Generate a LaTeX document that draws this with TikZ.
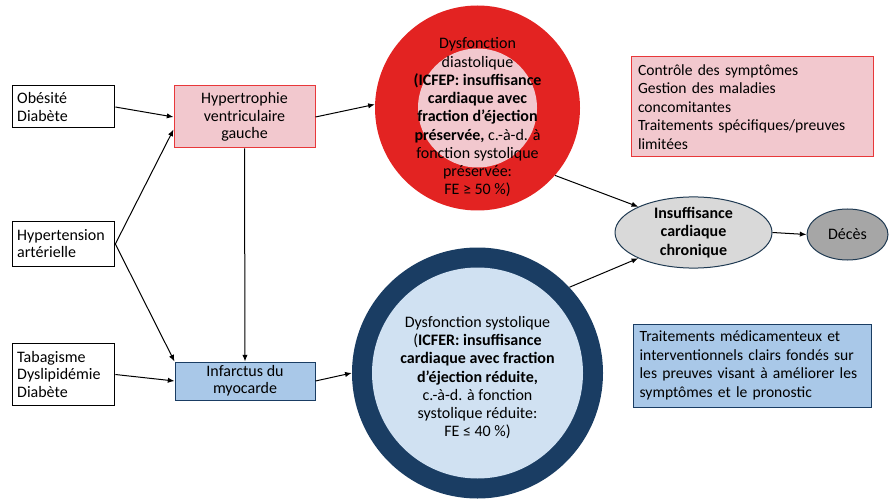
\documentclass[tikz,border=0pt]{standalone}
\usepackage{fontspec}
\setmainfont{Carlito}
\usepackage{xcolor}
\usepackage{tikz}
\usetikzlibrary{
    arrows.meta,
    positioning,
    shapes.geometric
}

\definecolor{ringred}{HTML}{E32322}
\definecolor{boxred}{HTML}{E8383A}
\definecolor{lightpink}{HTML}{F2C8CE}
\definecolor{navy}{HTML}{1A3D63}
\definecolor{paleblue}{HTML}{D0E1F2}
\definecolor{lightblue}{HTML}{A9C8E8}
\definecolor{ellline}{HTML}{1F3A52}
\definecolor{lightgrey}{HTML}{D9D9D9}
\definecolor{midgrey}{HTML}{A6A6A6}

\begin{document}
\begin{tikzpicture}[
    x=0.75pt, y=-0.75pt,
    >={Latex[length=5pt,width=4pt]},
    link/.style={->, line width=0.75pt},
    risk/.style={draw, line width=0.75pt, align=left, text width=69.5pt,
        inner xsep=3.75pt, inner ysep=0pt, font=\fontsize{12}{12.8}\selectfont},
    stage/.style={draw, line width=0.75pt, align=center, inner sep=0pt,
        font=\fontsize{12}{13}\selectfont},
    note/.style={draw, line width=0.75pt, align=left, inner xsep=5pt,
        inner ysep=0pt, font=\fontsize{11.7}{13.9}\selectfont},
    ringtext/.style={align=center, inner sep=0pt, font=\fontsize{12}{13.7}\selectfont},
    outcome/.style={ellipse, draw=ellline, line width=0.75pt, align=center,
        inner sep=0pt, font=\fontsize{12}{13.7}\selectfont}
]

\useasboundingbox (0,0) rectangle (896,499);

\node[risk, minimum height=31.5pt] (obe) at (63.5,107) {Obésité\\Diabète};
\node[risk, minimum height=33pt] (hta) at (63.5,244) {Hypertension\\artérielle};
\node[risk, minimum height=47pt] (tab) at (63.5,374.5)
    {Tabagisme\\Dyslipidémie\\Diabète};

\node[stage, draw=boxred, fill=lightpink, minimum width=105.75pt,
    minimum height=46.5pt] (hvg) at (244.5,117)
    {Hypertrophie\\ventriculaire\\gauche};
\node[stage, draw=navy, fill=lightblue, minimum width=105pt,
    minimum height=28.5pt] (ima) at (245,381) {Infarctus du\\myocarde};

\node[circle, fill=ringred, minimum size=153.75pt] (dia) at (477.5,108) {};
\node[circle, fill=lightpink, minimum size=89.25pt] (diain) at (dia) {};
\node[ringtext] (diatext) at (477.5,117.5)
    {Dysfonction\\diastolique\\
    \textbf{(ICFEP: insuffisance}\\
    \textbf{cardiaque avec}\\
    \textbf{fraction d’éjection}\\
    \textbf{préservée,} c.-à-d. à\\
    fonction systolique\\
    préservée:\\
    FE ≥ 50~\%)};

\node[circle, fill=navy, minimum size=188.25pt] (sys) at (477.5,373) {};
\node[circle, fill=paleblue, minimum size=158.25pt] (sysin) at (sys) {};
\node[ringtext] (systext) at (477.5,377.7)
    {Dysfonction systolique\\
    (\textbf{ICFER: insuffisance}\\
    \textbf{cardiaque avec fraction}\\
    \textbf{d’éjection réduite,}\\
    c.-à-d. à fonction\\
    systolique réduite:\\
    FE ≤ 40~\%)};

\node[outcome, fill=lightgrey, minimum width=117.75pt,
    minimum height=53.25pt] (ich) at (693.5,232.5)
    {\textbf{Insuffisance}\\\textbf{cardiaque}\\\textbf{chronique}};
\node[outcome, fill=midgrey, minimum width=60.75pt,
    minimum height=38.25pt] (dec) at (847.5,234.5) {Décès};

\node[note, draw=boxred, fill=lightpink, text width=171.75pt,
    minimum height=75pt] (hfpef) at (752.5,107)
    {Contrôle des symptômes\\
    Gestion des maladies\\
    concomitantes\\
    Traitements spécifiques/preuves\\
    limitées};
\node[note, draw=navy, fill=lightblue, text width=168.5pt,
    minimum height=62.25pt] (hfref) at (752,365.5)
    {Traitements médicamenteux et\\
    interventionnels clairs fondés sur\\
    les preuves visant à améliorer les\\
    symptômes et le pronostic};

\draw[link] (obe.east) -- (hvg.west);
\draw[link] (hta.east) -- (hvg.190);
\draw[link] (hta.east) -- (ima.north west);
\draw[link] (tab.east) -- (ima.west);
\draw[link] (hvg.south) -- (ima.north);
\draw[link] (hvg.east) -- (dia.178);
\draw[link] (ima.east) -- (sys.west);
\draw[link] (dia.-41) -- (ich.155);
\draw[link] (sys.43) -- (ich.205);
\draw[link] (ich.east) -- (dec.west);

\end{tikzpicture}
\end{document}
